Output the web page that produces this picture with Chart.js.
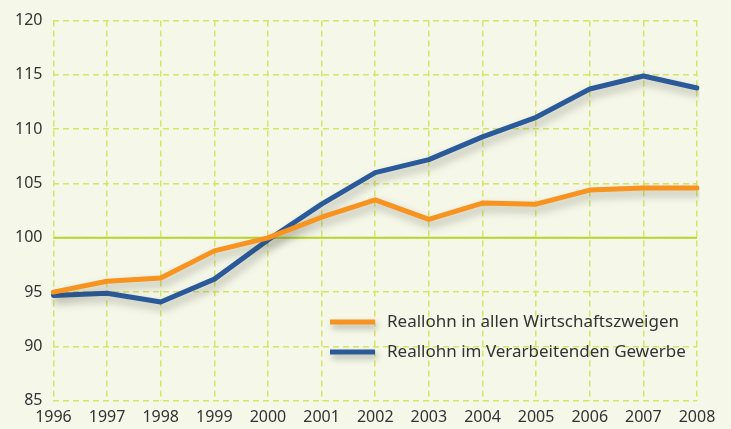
<!DOCTYPE html>
<html>
<head>
<meta charset="utf-8">
<script src="https://cdn.jsdelivr.net/npm/chart.js@4.4.1/dist/chart.umd.min.js"></script>
<style>
    html, body { margin: 0; padding: 0; background: #f5f7e9; }
    #wrap { width: 731px; height: 429px; }
</style>
</head>
<body>
<div id="wrap"><canvas id="reallohn-chart"></canvas></div>
<script>
const years = ['1996', '1997', '1998', '1999', '2000', '2001', '2002', '2003', '2004', '2005', '2006', '2007', '2008'];
const reallohnAlle = [95.0, 96.0, 96.3, 98.8, 100.0, 101.9, 103.5, 101.7, 103.2, 103.1, 104.4, 104.6, 104.6];
const reallohnVerarbeitend = [94.7, 94.9, 94.1, 96.2, 99.8, 103.1, 106.0, 107.2, 109.3, 111.1, 113.7, 114.9, 113.8];
const seriesNames = ['Reallohn in allen Wirtschaftszweigen', 'Reallohn im Verarbeitenden Gewerbe'];
const yMin = 85;
const yMax = 120;
const yStep = 5;
const baseLine = 100;

const orange = '#f7931e';
const blue = '#2a5a9a';
const gridColor = '#d6e566';

// solid line at 100 plus drop shadow under the series
const shadowPlugin = {
    id: 'shadowAndBase',
    beforeDatasetsDraw(chart) {
        const ctx = chart.ctx;
        const area = chart.chartArea;
        const y = chart.scales.y.getPixelForValue(baseLine);
        ctx.save();
        ctx.strokeStyle = '#b8d42e';
        ctx.lineWidth = 2;
        ctx.beginPath();
        ctx.moveTo(area.left, y);
        ctx.lineTo(area.right, y);
        ctx.stroke();
        ctx.restore();
        ctx.save();
        ctx.shadowColor = 'rgba(60, 60, 40, 0.35)';
        ctx.shadowBlur = 8;
        ctx.shadowOffsetX = 3;
        ctx.shadowOffsetY = 5;
    },
    afterDatasetsDraw(chart) {
        chart.ctx.restore();
    }
};

// legend drawn inside the plot, bottom right
const legendPlugin = {
    id: 'innerLegend',
    afterDraw(chart) {
        const ctx = chart.ctx;
        const x0 = 330;
        const rows = [322, 352];
        ctx.save();
        ctx.font = '17px "Noto Sans"';
        ctx.textBaseline = 'middle';
        chart.data.datasets.forEach((ds, i) => {
            const y = rows[i];
            ctx.save();
            ctx.shadowColor = 'rgba(60, 60, 40, 0.35)';
            ctx.shadowBlur = 6;
            ctx.shadowOffsetX = 2;
            ctx.shadowOffsetY = 4;
            ctx.strokeStyle = ds.borderColor;
            ctx.lineWidth = 5;
            ctx.beginPath();
            ctx.moveTo(x0, y);
            ctx.lineTo(x0 + 45, y);
            ctx.stroke();
            ctx.restore();
            ctx.fillStyle = '#333333';
            ctx.fillText(ds.label, x0 + 57, y);
        });
        ctx.restore();
    }
};

const ctx = document.getElementById('reallohn-chart').getContext('2d');
window.reallohnChart = new Chart(ctx, {
    type: 'line',
    data: {
        labels: years,
        datasets: [{
            label: seriesNames[0],
            data: reallohnAlle,
            borderColor: orange,
            backgroundColor: orange,
            borderWidth: 5,
            pointRadius: 0,
            tension: 0,
            borderCapStyle: 'round',
            borderJoinStyle: 'round',
        }, {
            label: seriesNames[1],
            data: reallohnVerarbeitend,
            borderColor: blue,
            backgroundColor: blue,
            borderWidth: 5,
            pointRadius: 0,
            tension: 0,
            borderCapStyle: 'round',
            borderJoinStyle: 'round',
        }],
    },
    options: {
        responsive: true,
        maintainAspectRatio: false,
        animation: false,
        layout: {
            padding: { top: 0, right: 34, left: 4, bottom: -5 },
        },
        plugins: {
            legend: { display: false },
            tooltip: { enabled: false },
        },
        scales: {
            x: {
                offset: false,
                grid: {
                    color: gridColor,
                    lineWidth: 1.5,
                    tickLength: 0,
                },
                border: { display: false, dash: [6, 4] },
                ticks: {
                    color: '#333333',
                    font: { family: 'Noto Sans', size: 16 },
                    padding: 7,
                    maxRotation: 0,
                    autoSkip: false,
                },
            },
            y: {
                min: yMin,
                max: yMax,
                grid: {
                    color: gridColor,
                    lineWidth: 1.5,
                    tickLength: 0,
                },
                border: { display: false, dash: [6, 4] },
                ticks: {
                    stepSize: yStep,
                    color: '#333333',
                    font: { family: 'Noto Sans', size: 16 },
                    padding: 11,
                },
            },
        },
    },
    plugins: [shadowPlugin, legendPlugin],
});
</script>
</body>
</html>
